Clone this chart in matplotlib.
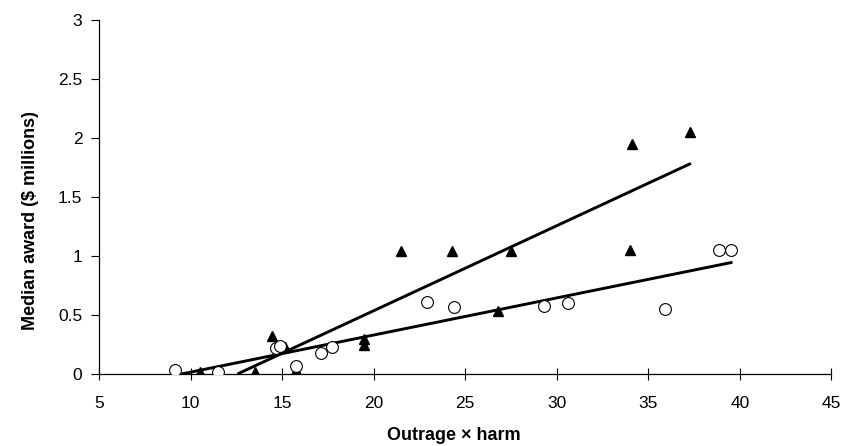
import matplotlib
matplotlib.use('Agg')
import matplotlib.pyplot as plt
import numpy as np

plt.rcParams.update({'font.family': 'Liberation Sans', 'text.color': 'black'})

# open circles
circ_x = [9.15, 11.5, 14.67, 14.9, 15.75, 17.1, 17.7, 22.9, 24.4, 29.3, 30.6, 35.9, 38.84, 39.5]
circ_y = [0.03, 0.02, 0.22, 0.24, 0.07, 0.18, 0.23, 0.61, 0.57, 0.58, 0.60, 0.55, 1.05, 1.05]
# filled triangles
tri_x = [10.5, 13.5, 14.44, 15.16, 15.75, 19.5, 19.5, 21.5, 24.3, 27.5, 26.8, 34.1, 34.0, 37.3]
tri_y = [0.02, 0.02, 0.32, 0.23, 0.03, 0.30, 0.25, 1.04, 1.04, 1.04, 0.53, 1.95, 1.05, 2.05]
# fitted lines (end points)
fit_tri_x = [12.56, 37.33]
fit_tri_y = [0.0, 1.785]
fit_circ_x = [9.5, 39.6]
fit_circ_y = [0.0, 0.947]

fig = plt.figure(figsize=(8.44, 4.46), dpi=100)
ax = fig.add_axes([0.1173, 0.1614, 0.8677, 0.7936])

ax.plot(fit_tri_x, fit_tri_y, color='black', lw=2.1, solid_capstyle='butt', zorder=2)
ax.plot(fit_circ_x, fit_circ_y, color='black', lw=2.1, solid_capstyle='butt', zorder=2)
ax.plot(tri_x, tri_y, ls='none', marker='^', ms=7, color='black', zorder=3)
ax.plot(circ_x, circ_y, ls='none', marker='o', ms=8.5, mfc='white', mec='black', mew=0.8, zorder=3)

ax.set_xlim(5, 45); ax.set_ylim(0, 3)
ax.set_xticks(np.arange(5, 46, 5)); ax.set_yticks(np.arange(0, 3.01, 0.5))
ax.set_yticklabels(['0', '0.5', '1', '1.5', '2', '2.5', '3'])
for s in ['top', 'right']: ax.spines[s].set_visible(False)
for s in ['left', 'bottom']: ax.spines[s].set_linewidth(0.9)
ax.tick_params(axis='x', direction='inout', length=9, width=0.8, pad=11, labelsize=12.5)
ax.tick_params(axis='y', direction='out', length=6, width=0.8, pad=6, labelsize=12.5)
ax.set_xlabel('Outrage \u00d7 harm', fontsize=13, fontweight='bold')
ax.set_ylabel('Median award ($ millions)', fontsize=13, fontweight='bold')
ax.xaxis.set_label_coords(0.484, -0.15)
ax.yaxis.set_label_coords(-0.082, 0.435)

plt.savefig('out.png', dpi=100)
